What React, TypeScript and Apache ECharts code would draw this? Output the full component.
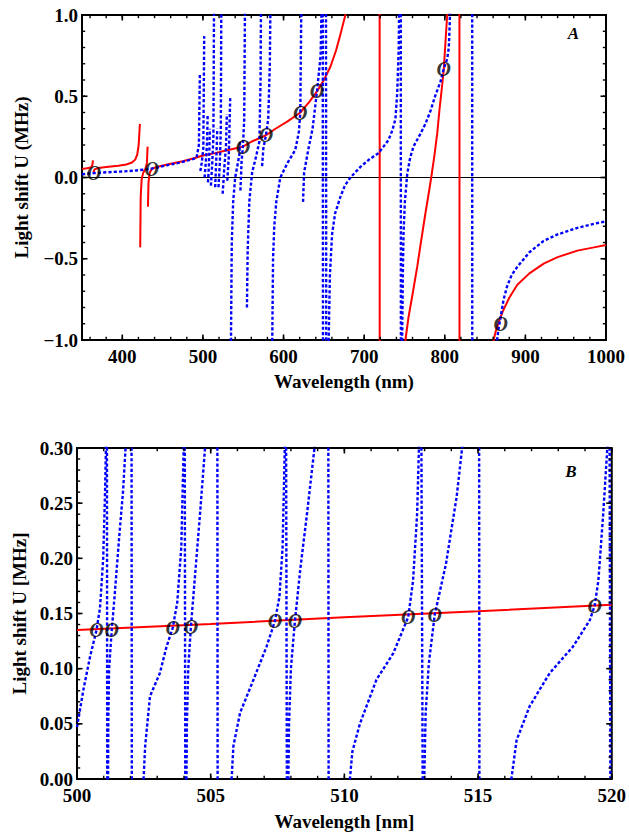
import React, { useEffect, useRef } from 'react';
import * as echarts from 'echarts';

// ---------- tick labels ----------
const xTicksA = [400, 500, 600, 700, 800, 900, 1000];
const yTicksA = [-1, -0.5, 0, 0.5, 1];
const xTicksB = [500, 505, 510, 515, 520];
const yTicksB = [0, 0.05, 0.1, 0.15, 0.2, 0.25, 0.3];

// ---------- Panel A : red (solid) branches [wavelength nm, U MHz] ----------
const redA1 = [[350, 0.053], [356, 0.057], [361, 0.062], [362.8, 0.075], [363.6, 0.105]];
const redA2 = [[364.2, 0.03], [365.5, 0.05], [370, 0.058], [380, 0.064], [395, 0.072], [405, 0.08], [412, 0.092], [416, 0.11], [418.5, 0.14], [420.3, 0.2], [421.8, 0.33]];
const redA3 = [[422.2, -0.43], [422.8, -0.12], [424, -0.01], [426, 0.03], [428.5, 0.05], [430.5, 0.09], [431.4, 0.19]];
const redA4 = [[431.8, -0.18], [432.5, -0.03], [434, 0.03], [437, 0.055], [445, 0.068], [460, 0.085], [475, 0.1], [490, 0.12], [500, 0.135], [515, 0.15], [530, 0.168], [545, 0.185], [549.6, 0.19], [560, 0.22], [578.2, 0.26], [590, 0.3], [605, 0.345], [620.8, 0.4], [632, 0.465], [641.5, 0.53], [650, 0.6], [658, 0.68], [665, 0.78], [670, 0.87], [676.7, 1.0], [680, 1.15]];
const redA5 = [[719.2, 1.3], [719.3, -1.3]];
const redA6 = [[750.5, -1.15], [751.2, -1.0], [755, -0.86], [760, -0.72], [765.8, -0.55], [771, -0.38], [776, -0.22], [780, -0.1], [783.2, 0], [787, 0.13], [790.6, 0.27], [793.5, 0.42], [796.8, 0.57], [798.8, 0.67], [801.2, 0.86], [803, 1.0], [804, 1.1]];
const redA7 = [[818.2, 1.3], [818.3, -1.3]];
const redA8 = [[860, -1.1], [860.6, -1.0], [863, -0.95], [867, -0.89], [871.4, -0.83], [880, -0.74], [890, -0.66], [905, -0.59], [922.7, -0.53], [940, -0.49], [964.5, -0.45], [985, -0.43], [1000, -0.415]];

// ---------- Panel A : blue (dotted) branches ----------
const blueA0 = [[350, 0.02], [365, 0.027], [380, 0.032], [400, 0.037], [415, 0.042], [430, 0.05], [436.6, 0.055], [445, 0.063], [455, 0.075], [470, 0.09], [485, 0.11], [492, 0.12], [495, 0.2], [496.2, 0.64]];
const blueA1 = [[496.8, 0.04], [498.5, 0.09], [500.5, 0.18], [501.6, 0.87]];
const blueA2 = [[502.1, 0.0], [503.5, 0.09], [505, 0.2], [505.9, 0.39]];
const blueA3 = [[506.3, -0.03], [507.5, 0.08], [508.6, 0.3]];
const blueA4 = [[509.9, -0.05], [511.5, 0.08], [513, 0.25], [514, 1.3]];
const blueA5 = [[515.2, -0.06], [516.5, 0.1], [517.8, 0.3]];
const blueA6 = [[519.3, -0.06], [521, 0.09], [522.2, 0.3], [523, 1.3]];
const blueA7 = [[524.5, -0.1], [526.5, 0.06], [528.5, 0.18], [529.7, 0.39]];
const blueA8 = [[530.2, -0.02], [532, 0.12], [533.9, 0.5]];
const blueA9 = [[534.4, -1.3], [534.8, -1.0], [535.8, -0.4], [537.5, -0.15], [540, 0.0], [543, 0.08], [545.2, 0.14], [546, 0.22]];
const blueA10 = [[546.5, -0.08], [548, 0.1], [549.6, 0.19], [551.2, 0.35], [552.5, 1.3]];
const blueA11 = [[554.6, -0.8], [555.5, -0.45], [557.5, -0.15], [561, 0.03], [566, 0.13], [570, 0.22], [571.5, 0.6], [572.3, 1.3]];
const blueA12 = [[573.4, 0.07], [575, 0.18], [578.2, 0.26], [581, 0.36], [583, 0.7], [584.2, 1.3]];
const blueA13 = [[585.5, -1.3], [586, -1.0], [587, -0.5], [588.5, -0.3], [591, -0.15], [596, 0.0], [605, 0.09], [614.6, 0.17], [619, 0.28], [620.8, 0.4], [622.5, 1.3]];
const blueA14 = [[624.2, -0.15], [625.5, 0.03], [631, 0.18], [636, 0.3], [641.5, 0.53], [646, 0.75], [648.2, 1.3]];
const blueA15 = [[648.6, 1.3], [649, -1.3]];
const blueA16 = [[652.6, 1.3], [653, -1.3]];
const blueA17 = [[655.5, -1.3], [656, -1.0], [657.5, -0.6], [660.2, -0.35], [664, -0.22], [670.5, -0.12], [676, -0.05], [683, 0], [695.3, 0.065], [706, 0.11], [717.7, 0.15], [724, 0.19], [730.1, 0.23], [735, 0.29], [738.8, 0.36], [741, 0.52], [742.9, 0.8], [744, 1.3]];
const blueA18 = [[745.4, 1.3], [745.6, -1.3]];
const blueA19 = [[746.5, -1.3], [747.1, -1.0], [748, -0.6], [748.8, -0.35], [750.5, -0.15], [753.4, 0.02], [757, 0.12], [761.2, 0.19], [769.9, 0.27], [776, 0.33], [782.3, 0.41], [788, 0.5], [794.7, 0.59], [798.8, 0.67], [803, 0.73], [805, 0.8], [806.2, 0.95], [807, 1.3]];
const blueA20 = [[834, 1.3], [834.1, -1.3]];
const blueA21 = [[864, -1.1], [864.8, -1.0], [866.8, -0.93], [869.3, -0.86], [873, -0.75], [877.3, -0.67], [883, -0.6], [890, -0.55], [905, -0.46], [922.7, -0.39], [940, -0.35], [964.5, -0.31], [985, -0.285], [1000, -0.27]];

const markersA = [[364.9, 0.027], [436.6, 0.055], [549.6, 0.19], [578.2, 0.26], [620.8, 0.4], [641.5, 0.53], [798.8, 0.67], [869.3, -0.9]];

// ---------- Panel B ----------
const redB = [[500, 0.135], [505, 0.1405], [510, 0.1465], [515, 0.152], [520, 0.158]];

const blueB1 = [[500, 0.047], [500.24, 0.081], [500.49, 0.111], [500.73, 0.135], [500.86, 0.155], [500.98, 0.2], [501.05, 0.26], [501.09, 0.31]];
const blueB2 = [[501.12, 0.31], [501.13, -0.01]];
const blueB3 = [[501.16, -0.01], [501.17, 0.05], [501.2, 0.1], [501.3, 0.135], [501.42, 0.17], [501.58, 0.22], [501.72, 0.26], [501.84, 0.31]];
const blueB4 = [[502.04, 0.31], [502.05, -0.01]];
const blueB5 = [[502.47, -0.01], [502.55, 0.03], [502.73, 0.075], [503.1, 0.096], [503.35, 0.12], [503.58, 0.137], [503.75, 0.16], [503.9, 0.21], [504.0, 0.31]];
const blueB6 = [[504.03, 0.31], [504.05, -0.01]];
const blueB7 = [[504.09, -0.01], [504.11, 0.05], [504.16, 0.1], [504.26, 0.138], [504.4, 0.18], [504.6, 0.24], [504.82, 0.31]];
const blueB8 = [[505.25, 0.31], [505.26, -0.01]];
const blueB9 = [[505.76, -0.01], [505.85, 0.03], [506.1, 0.06], [506.6, 0.09], [507.09, 0.12], [507.4, 0.143], [507.57, 0.165], [507.69, 0.21], [507.78, 0.31]];
const blueB10 = [[507.82, 0.31], [507.85, -0.01]];
const blueB11 = [[507.9, -0.01], [507.93, 0.05], [508.0, 0.1], [508.15, 0.143], [508.35, 0.19], [508.6, 0.24], [508.93, 0.31]];
const blueB12 = [[509.4, 0.31], [509.41, -0.01]];
const blueB13 = [[510.17, -0.01], [510.3, 0.025], [510.58, 0.05], [511.2, 0.09], [511.83, 0.114], [512.39, 0.147], [512.57, 0.18], [512.72, 0.24], [512.8, 0.31]];
const blueB14 = [[512.88, 0.31], [512.93, -0.01]];
const blueB15 = [[512.98, -0.01], [513.04, 0.06], [513.16, 0.105], [513.38, 0.149], [513.8, 0.195], [514.2, 0.256], [514.45, 0.31]];
const blueB16 = [[515.04, 0.31], [515.05, -0.01]];
const blueB17 = [[516.19, -0.01], [516.44, 0.035], [516.93, 0.066], [517.68, 0.096], [518.55, 0.12], [519.18, 0.144], [519.36, 0.157], [519.5, 0.18], [519.68, 0.24], [519.86, 0.31]];
const blueB18 = [[519.92, 0.31], [519.95, -0.01]];

const markersB = [[500.73, 0.135], [501.3, 0.135], [503.58, 0.137], [504.26, 0.138], [507.4, 0.143], [508.15, 0.143], [512.39, 0.147], [513.38, 0.149], [519.36, 0.157]];

const zeroLineA = [[350, 0], [1000, 0]];

const redBranchesA = [redA1, redA2, redA3, redA4, redA5, redA6, redA7, redA8];
const blueBranchesA = [blueA0, blueA1, blueA2, blueA3, blueA4, blueA5, blueA6, blueA7, blueA8, blueA9, blueA10, blueA11, blueA12, blueA13, blueA14, blueA15, blueA16, blueA17, blueA18, blueA19, blueA20, blueA21];
const blueBranchesB = [blueB1, blueB2, blueB3, blueB4, blueB5, blueB6, blueB7, blueB8, blueB9, blueB10, blueB11, blueB12, blueB13, blueB14, blueB15, blueB16, blueB17, blueB18];

// ---------- helpers ----------
const FONT = "'Liberation Serif', 'Times New Roman', serif";
const steps = (start: number, end: number, step: number) => {
  const n = Math.round((end - start) / step);
  const out: number[] = [];
  for (let i = 0; i <= n; i++) out.push(+(start + i * step).toFixed(6));
  return out;
};
const labelFont = { fontFamily: FONT, fontSize: 19, fontWeight: 'bold', color: '#000' };
const nameFont = { fontFamily: FONT, fontSize: 19, fontWeight: 'bold', color: '#000' };

const AX = { minA: 350, maxA: 1000, yMinA: -1, yMaxA: 1, minB: 500, maxB: 520, yMinB: 0, yMaxB: 0.3 };

function axis(gridIndex: number, min: number, max: number, position: string, ticks: number[], fmt: any, margin: number, name: string, nameGap: number, rotate?: number) {
  return {
    type: 'value',
    gridIndex,
    min,
    max,
    position,
    splitLine: { show: false },
    axisLine: { show: false, onZero: false },
    axisTick: { show: false },
    axisLabel: { show: true, customValues: ticks, formatter: fmt, margin, ...labelFont },
    name,
    nameLocation: 'middle',
    nameGap,
    nameRotate: rotate,
    nameTextStyle: nameFont,
  };
}

const lineSeries = (data: number[][], xi: number, color: string, dotted: boolean) => ({
  type: 'line',
  data,
  xAxisIndex: xi,
  yAxisIndex: xi,
  symbol: 'none',
  showSymbol: false,
  clip: true,
  silent: true,
  z: dotted ? 4 : 3,
  lineStyle: dotted ? { color, width: 2.4, type: [3.2, 2.1], cap: 'butt' } : { color, width: 2 },
});

const markerSeries = (data: number[][], xi: number) => ({
  type: 'scatter',
  data,
  xAxisIndex: xi,
  yAxisIndex: xi,
  symbol: 'circle',
  symbolSize: 1,
  silent: true,
  z: 6,
  itemStyle: { color: 'rgba(0,0,0,0)' },
  label: {
    show: true,
    position: 'inside',
    formatter: 'O',
    fontFamily: FONT,
    fontSize: 20,
    fontStyle: 'italic',
    fontWeight: 'bold',
    color: '#000',
    textBorderWidth: 0,
    textBorderColor: 'transparent',
    textShadowBlur: 0,
  },
});

export default function App() {
  const ref = useRef<HTMLDivElement>(null);
  useEffect(() => {
    if (!ref.current) return;
    const chart = echarts.init(ref.current, undefined, { renderer: 'svg' });
    const fmtA = (v: number) => (v < 0 ? '\u2212' : '') + Math.abs(v).toFixed(1);
    const fmtB = (v: number) => v.toFixed(2);
    const fmtX = (v: number) => String(Math.round(v));

    const option: any = {
      animation: false,
      backgroundColor: '#ffffff',
      grid: [
        { left: 82, top: 15, width: 524, height: 325, show: true, borderColor: '#000', borderWidth: 2, backgroundColor: 'transparent' },
        { left: 77, top: 448, width: 535, height: 331, show: true, borderColor: '#000', borderWidth: 2, backgroundColor: 'transparent' },
      ],
      xAxis: [
        axis(0, AX.minA, AX.maxA, 'bottom', xTicksA, fmtX, 7, 'Wavelength (nm)', 32),
        axis(1, AX.minB, AX.maxB, 'bottom', xTicksB, fmtX, 7, 'Wavelength [nm]', 33),
      ],
      yAxis: [
        axis(0, AX.yMinA, AX.yMaxA, 'left', yTicksA, fmtA, 4, 'Light shift U (MHz)', 51, 90),
        axis(1, AX.yMinB, AX.yMaxB, 'left', yTicksB, fmtB, 4, 'Light shift U [MHz]', 48, 90),
      ],
      series: [
        {
          type: 'line',
          data: zeroLineA,
          xAxisIndex: 0,
          yAxisIndex: 0,
          symbol: 'none',
          silent: true,
          z: 2,
          lineStyle: { color: '#000', width: 1 },
        },
        ...redBranchesA.map((d) => lineSeries(d, 0, '#ff0000', false)),
        ...blueBranchesA.map((d) => lineSeries(d, 0, '#0000ff', true)),
        markerSeries(markersA, 0),
        lineSeries(redB, 1, '#ff0000', false),
        ...blueBranchesB.map((d) => lineSeries(d, 1, '#0000ff', true)),
        markerSeries(markersB, 1),
      ],
    };
    chart.setOption(option);

    // frame ticks on all four sides, placed through the chart's own scales
    const tickEls: any[] = [];
    const addTicks = (gridIndex: number, dir: 'x' | 'y', values: number[], len: number, w: number,
      xMin: number, xMax: number, yMin: number, yMax: number) => {
      const p0 = chart.convertToPixel({ gridIndex }, [xMin, yMin]) as number[];
      const p1 = chart.convertToPixel({ gridIndex }, [xMax, yMax]) as number[];
      values.forEach((v) => {
        if (dir === 'x') {
          const px = (chart.convertToPixel({ gridIndex }, [v, yMin]) as number[])[0];
          tickEls.push({ type: 'line', silent: true, z: 10, shape: { x1: px, y1: p0[1], x2: px, y2: p0[1] - len }, style: { stroke: '#000', lineWidth: w } });
          tickEls.push({ type: 'line', silent: true, z: 10, shape: { x1: px, y1: p1[1], x2: px, y2: p1[1] + len }, style: { stroke: '#000', lineWidth: w } });
        } else {
          const py = (chart.convertToPixel({ gridIndex }, [xMin, v]) as number[])[1];
          tickEls.push({ type: 'line', silent: true, z: 10, shape: { x1: p0[0], y1: py, x2: p0[0] + len, y2: py }, style: { stroke: '#000', lineWidth: w } });
          tickEls.push({ type: 'line', silent: true, z: 10, shape: { x1: p1[0], y1: py, x2: p1[0] - len, y2: py }, style: { stroke: '#000', lineWidth: w } });
        }
      });
    };
    addTicks(0, 'x', xTicksA, 5.5, 1.6, AX.minA, AX.maxA, AX.yMinA, AX.yMaxA);
    addTicks(0, 'x', steps(360, 1000, 20), 3.2, 1.4, AX.minA, AX.maxA, AX.yMinA, AX.yMaxA);
    addTicks(0, 'y', yTicksA, 5.5, 1.6, AX.minA, AX.maxA, AX.yMinA, AX.yMaxA);
    addTicks(0, 'y', steps(-1, 1, 0.1), 3.2, 1.4, AX.minA, AX.maxA, AX.yMinA, AX.yMaxA);
    addTicks(1, 'x', xTicksB, 5.5, 1.6, AX.minB, AX.maxB, AX.yMinB, AX.yMaxB);
    addTicks(1, 'x', steps(500, 520, 1), 3.2, 1.4, AX.minB, AX.maxB, AX.yMinB, AX.yMaxB);
    addTicks(1, 'y', yTicksB, 5.5, 1.6, AX.minB, AX.maxB, AX.yMinB, AX.yMaxB);
    addTicks(1, 'y', steps(0, 0.3, 0.01), 3.2, 1.4, AX.minB, AX.maxB, AX.yMinB, AX.yMaxB);

    chart.setOption({
      graphic: [
        {
          type: 'text',
          x: 573.5,
          y: 33.5,
          z: 10,
          style: { text: 'A', fill: '#000', fontFamily: FONT, fontSize: 17, fontStyle: 'italic', fontWeight: 'bold', align: 'center', verticalAlign: 'middle' },
        },
        {
          type: 'text',
          x: 571,
          y: 471.5,
          z: 10,
          style: { text: 'B', fill: '#000', fontFamily: FONT, fontSize: 17, fontStyle: 'italic', fontWeight: 'bold', align: 'center', verticalAlign: 'middle' },
        },
        ...tickEls,
      ],
    });
    return () => chart.dispose();
  }, []);
  return <div ref={ref} style={{ position: 'absolute', left: 0, top: 0, width: 629, height: 833, background: '#fff' }} />;
}
